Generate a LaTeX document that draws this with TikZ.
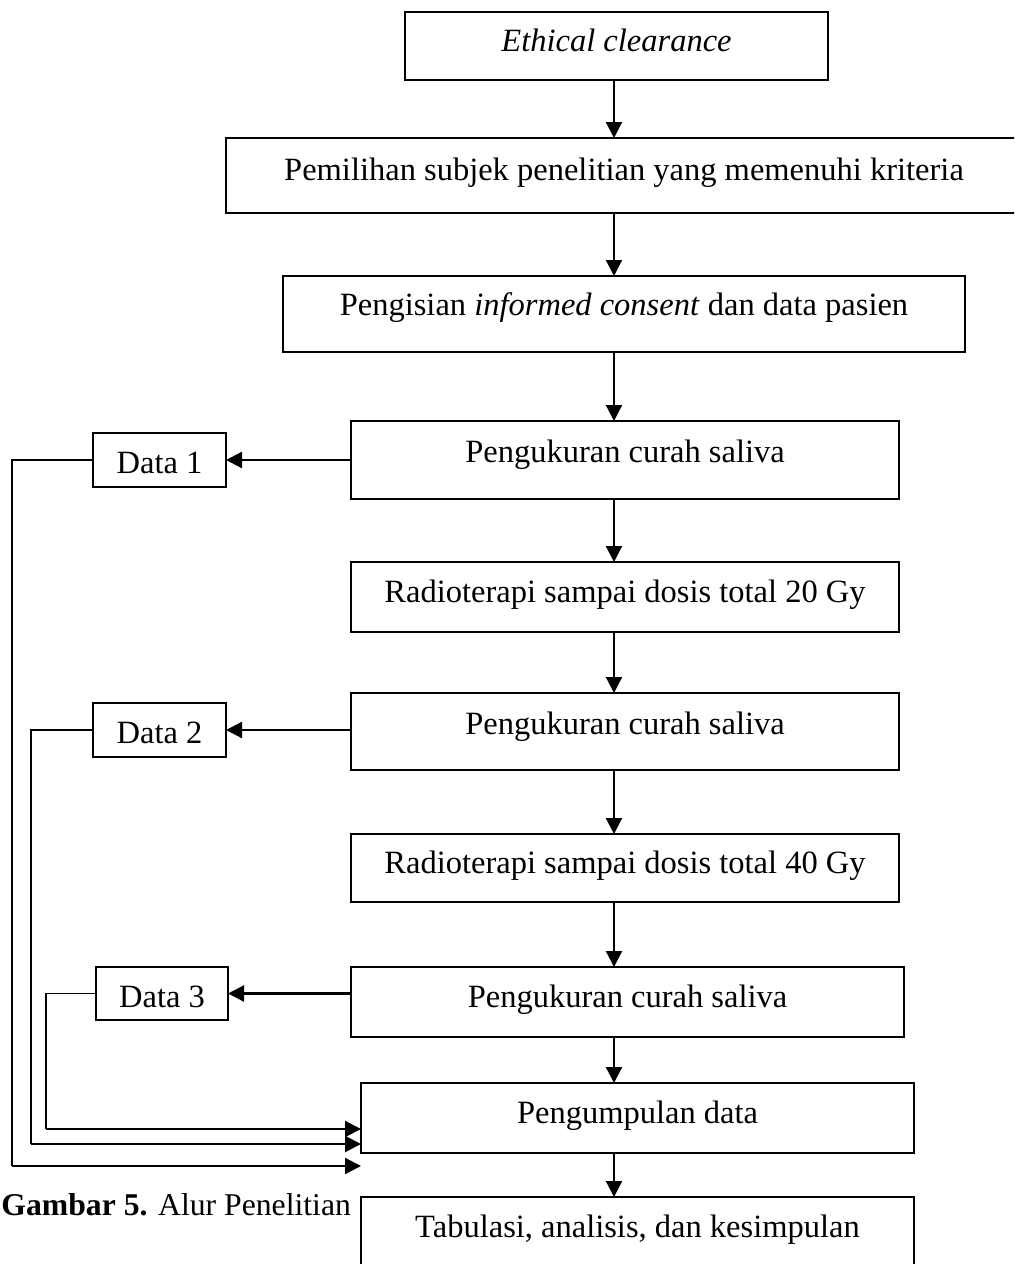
\documentclass[tikz,border=0pt]{standalone}
\usepackage{fontspec}
\setmainfont{Liberation Serif}
\usetikzlibrary{arrows.meta}
\begin{document}
\begin{tikzpicture}[x=0.5pt,y=-0.5pt,
  fbox/.style={draw, line width=1pt, inner sep=0pt, outer sep=0pt,
    font=\fontsize{16.25}{19}\selectfont, anchor=north},
  arr/.style={line width=1.1pt, -{Triangle[length=8pt,width=8pt]}},
  lane/.style={line width=0.75pt}]
\clip (0,0) rectangle (1014,1264);
\fill[white] (0,0) rectangle (1014,1264);

% main column boxes (minimum width / text height / text depth in pt = px/2)
\node[fbox, minimum width=211.5pt, text height=19.5pt, text depth=14.5pt] (eth) at (616.5,12) {\textit{Ethical clearance}};
\node[fbox, minimum width=398pt, text height=21pt, text depth=16.5pt] (pem) at (624,138) {Pemilihan subjek penelitian yang memenuhi kriteria};
\node[fbox, minimum width=341pt, text height=19.5pt, text depth=18.5pt] (isi) at (624,276) {Pengisian \textit{informed consent} dan data pasien};
\node[fbox, minimum width=274pt, text height=20.5pt, text depth=18.5pt] (uk1) at (625,421) {Pengukuran curah saliva};
\node[fbox, minimum width=274pt, text height=20pt, text depth=15pt] (r20) at (625,562) {Radioterapi sampai dosis total 20 Gy};
\node[fbox, minimum width=274pt, text height=20.5pt, text depth=18pt] (uk2) at (625,693) {Pengukuran curah saliva};
\node[fbox, minimum width=274pt, text height=19.5pt, text depth=14.5pt] (r40) at (625,834) {Radioterapi sampai dosis total 40 Gy};
\node[fbox, minimum width=276.5pt, text height=20pt, text depth=15pt] (uk3) at (627.5,967) {Pengukuran curah saliva};
\node[fbox, minimum width=276.5pt, text height=20pt, text depth=15pt] (kum) at (637.5,1083) {Pengumpulan data};
\node[fbox, minimum width=276.5pt, text height=20pt, text depth=22pt] (tab) at (637.5,1197) {Tabulasi, analisis, dan kesimpulan};

% data boxes
\node[fbox, minimum width=66.5pt, text height=20pt, text depth=7pt] (d1) at (159.5,433) {Data 1};
\node[fbox, minimum width=66.5pt, text height=20pt, text depth=7pt] (d2) at (159.5,703) {Data 2};
\node[fbox, minimum width=66pt, text height=20pt, text depth=6.5pt] (d3) at (162,967) {Data 3};

% caption
\node[font=\fontsize{15.85}{19}\selectfont, anchor=base west, inner sep=0pt] (cap) at (1,1215) {\textbf{Gambar 5.} Alur Penelitian};

% axis and lanes
\coordinate (ax) at (614,0);
\coordinate (l1) at (12,0);
\coordinate (l2) at (31,0);
\coordinate (l3) at (46,0);
\coordinate (in1) at (361,1166);
\coordinate (in2) at (361,1144);
\coordinate (in3) at (361,1129);

% vertical arrows
\draw[arr] (eth.south -| ax) -- (pem.north -| ax);
\draw[arr] (pem.south -| ax) -- (isi.north -| ax);
\draw[arr] (isi.south -| ax) -- (uk1.north -| ax);
\draw[arr] (uk1.south -| ax) -- (r20.north -| ax);
\draw[arr] (r20.south -| ax) -- (uk2.north -| ax);
\draw[arr] (uk2.south -| ax) -- (r40.north -| ax);
\draw[arr] (r40.south -| ax) -- (uk3.north -| ax);
\draw[arr] (uk3.south -| ax) -- (kum.north -| ax);
\draw[arr] (kum.south -| ax) -- (tab.north -| ax);

% arrows to data boxes
\draw[arr] (d1.east -| uk1.west) -- (d1.east);
\draw[arr] (d2.east -| uk2.west) -- (d2.east);
\draw[arr] (d3.east -| uk3.west) -- (d3.east);

% lanes back to Pengumpulan data
\draw[lane] (d1.west) -- (l1 |- d1.west) -- (l1 |- in1);
\draw[arr] (l1 |- in1) -- (in1);
\draw[lane] (d2.west) -- (l2 |- d2.west) -- (l2 |- in2);
\draw[arr] (l2 |- in2) -- (in2);
\draw[lane] (d3.west) -- (l3 |- d3.west) -- (l3 |- in3);
\draw[arr] (l3 |- in3) -- (in3);
\end{tikzpicture}
\end{document}
